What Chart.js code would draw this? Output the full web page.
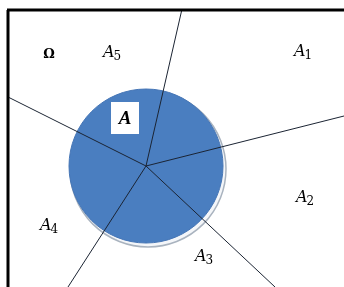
<!DOCTYPE html>
<html>
<head>
<meta charset="utf-8">
<script src="https://cdn.jsdelivr.net/npm/chart.js@4/dist/chart.umd.min.js"></script>
<style>
  html, body { margin: 0; padding: 0; background: #fff; }
  #c { display: block; }
</style>
</head>
<body>
<canvas id="c" width="344" height="287"></canvas>
<script>
// 图形数据（坐标系：x 0..344, y 0..287, y向下）
const center = { x: 146, y: 166 };
const rayEnds = [
  { x: 182, y: 9 },   // 上
  { x: 344, y: 116 }, // 右
  { x: 275, y: 287 }, // 右下
  { x: 68, y: 287 },  // 左下
  { x: 8, y: 97 }     // 左
];
const circleRadius = 77;
const frameTop = [{ x: 7, y: 10 }, { x: 344, y: 10 }];
const frameLeft = [{ x: 8, y: 10 }, { x: 8, y: 287 }];
const labelNames = ['Ω', 'A', 'A', 'A', 'A', 'A', 'A'];
const labelSubs = ['', '5', '1', '2', '3', '4', ''];
const labelX = [49, 112, 303, 305, 204, 49, 125];
const labelY = [55, 53, 52, 198, 257, 226, 118];

const rayDatasets = rayEnds.map(p => ({
  type: 'line',
  data: [center, p],
  borderColor: '#1b2433',
  borderWidth: 1,
  pointRadius: 0,
  order: 1
}));

// 文字标签插件
const labelPlugin = {
  id: 'labels',
  afterDatasetsDraw(chart) {
    const ctx = chart.ctx;
    const xs = chart.scales.x, ys = chart.scales.y;
    ctx.save();
    ctx.textBaseline = 'middle';
    labelNames.forEach((name, i) => {
      const px = xs.getPixelForValue(labelX[i]);
      const py = ys.getPixelForValue(labelY[i]);
      if (name === 'Ω') {
        ctx.font = 'bold 13px "DejaVu Serif"';
        ctx.fillStyle = '#000';
        ctx.textAlign = 'center';
        ctx.fillText(name, px, py);
        return;
      }
      if (!labelSubs[i]) {
        // 白底框
        ctx.fillStyle = '#fff';
        ctx.fillRect(px - 14, py - 16, 28, 32);
        ctx.font = 'italic bold 19px "Liberation Serif"';
        ctx.fillStyle = '#000';
        ctx.textAlign = 'center';
        ctx.fillText(name, px, py + 1);
        return;
      }
      ctx.font = 'italic 16px "DejaVu Serif"';
      ctx.fillStyle = '#000';
      ctx.textAlign = 'left';
      const w = ctx.measureText(name).width;
      const x0 = px - 9;
      ctx.fillText(name, x0, py);
      ctx.font = '12px "DejaVu Serif"';
      ctx.fillText(labelSubs[i], x0 + w - 1, py + 4);
    });
    ctx.restore();
  }
};

new Chart(document.getElementById('c'), {
  type: 'scatter',
  data: {
    datasets: [
      ...rayDatasets,
      {
        type: 'line',
        data: frameTop,
        borderColor: '#000',
        borderWidth: 3,
        pointRadius: 0,
        order: 0
      },
      {
        type: 'line',
        data: frameLeft,
        borderColor: '#000',
        borderWidth: 3,
        pointRadius: 0,
        order: 0
      },
      {
        type: 'bubble',
        data: [{ x: center.x, y: center.y, r: circleRadius }],
        backgroundColor: '#4a7ec0',
        borderColor: '#4676b6',
        borderWidth: 1,
        order: 2
      },
      {
        type: 'bubble',
        data: [{ x: center.x + 2, y: center.y + 3, r: circleRadius + 1 }],
        backgroundColor: '#f4f6f9',
        borderColor: '#a9b3bf',
        borderWidth: 1.5,
        order: 3
      }
    ]
  },
  options: {
    responsive: false,
    animation: false,
    layout: { padding: 0, autoPadding: false },
    plugins: { legend: { display: false }, tooltip: { enabled: false } },
    scales: {
      x: { type: 'linear', min: 0, max: 344, display: false },
      y: { type: 'linear', min: 0, max: 287, reverse: true, display: false }
    }
  },
  plugins: [labelPlugin]
});
</script>
</body>
</html>
